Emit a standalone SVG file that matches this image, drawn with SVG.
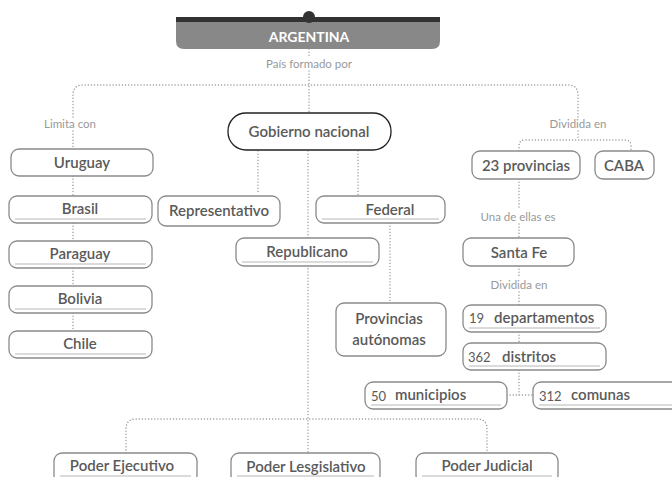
<svg xmlns="http://www.w3.org/2000/svg" width="672" height="477" viewBox="0 0 672 477">
<style>
.n{fill:#fff;stroke:#8a8a8a;stroke-width:1.3}
.u{stroke:#cfcfcf;stroke-width:1.5;fill:none}
.t{font-family:Lato,"Open Sans",sans-serif;font-size:15px;font-weight:600;fill:#5a5a5a;text-anchor:middle}
.s{font-family:Lato,"Open Sans",sans-serif;font-size:13px;font-weight:400;fill:#5a5a5a}
.w{font-family:Lato,"Open Sans",sans-serif;font-size:15px;font-weight:600;fill:#5a5a5a}
.l{font-family:Lato,"Open Sans",sans-serif;font-size:11.5px;fill:#999;text-anchor:middle}
.c{fill:none;stroke:#9a9a9a;stroke-width:1.4;stroke-dasharray:0.1 3;stroke-linecap:round}
</style>
<g id="connectors">
<path class="c" d="M309,49 V57 M309,71 V113"/>
<path class="c" d="M73,117 V95 Q73,85 83,85 H568 Q578,85 578,95 V117"/>
<path class="c" d="M73,131 V149"/>
<path class="c" d="M578,131 V140 M519,151 V146 Q519,140 525,140 H625 Q631,140 631,146 V151"/>
<path class="c" d="M73,176 V196 M73,223 V241 M73,268 V286 M73,313 V331"/>
<path class="c" d="M258,151 V194 M358,151 V196 M308,151 V453"/>
<path class="c" d="M126,453 V429 Q126,419 136,419 H477 Q487,419 487,429 V453"/>
<path class="c" d="M390,223 V303"/>
<path class="c" d="M519,179 V208 M519,224 V238 M519,266 V277 M519,292 V305 M519,332 V343 M519,370 V395 M507,395 H533"/>
</g>
<g id="title">
<path d="M176,22 H440 V41 Q440,49 432,49 H184 Q176,49 176,41 Z" fill="#888"/>
<rect x="176" y="17" width="264" height="5" fill="#333"/>
<circle cx="309" cy="17" r="6" fill="#333"/>
<text x="309" y="42" font-family="Lato,'Open Sans',sans-serif" font-size="14" font-weight="700" fill="#fff" text-anchor="middle">ARGENTINA</text>
</g>
<g id="labels">
<text class="l" x="309" y="68">País formado por</text>
<text class="l" x="70" y="128">Limita con</text>
<text class="l" x="578" y="128">Dividida en</text>
<text class="l" x="518" y="221">Una de ellas es</text>
<text class="l" x="519" y="289">Dividida en</text>
</g>
<g id="gobierno"><rect x="228" y="113" width="163" height="37" rx="18" fill="#fff" stroke="#222" stroke-width="1.3"/><text class="t" x="309" y="137">Gobierno nacional</text></g>
<g id="uruguay"><rect class="n" x="11" y="149" width="142" height="27" rx="8"/><text class="t" x="82" y="168">Uruguay</text></g>
<g id="brasil"><rect class="n" x="9" y="196" width="143" height="27" rx="8"/><path class="u" d="M15,219 H146"/><text class="t" x="80" y="214">Brasil</text></g>
<g id="paraguay"><rect class="n" x="9" y="241" width="143" height="27" rx="8"/><path class="u" d="M15,264 H146"/><text class="t" x="80" y="259">Paraguay</text></g>
<g id="bolivia"><rect class="n" x="9" y="286" width="143" height="27" rx="8"/><path class="u" d="M15,309 H146"/><text class="t" x="80" y="304">Bolivia</text></g>
<g id="chile"><rect class="n" x="9" y="331" width="143" height="27" rx="8"/><path class="u" d="M15,354 H146"/><text class="t" x="80" y="349">Chile</text></g>
<g id="representativo"><rect class="n" x="158" y="196" width="122" height="30" rx="8"/><text class="t" x="219" y="216">Representativo</text></g>
<g id="federal"><rect class="n" x="316" y="196" width="129" height="27" rx="8"/><path class="u" d="M322,219 H439"/><text class="t" x="390" y="215">Federal</text></g>
<g id="republicano"><rect class="n" x="236" y="238" width="143" height="28" rx="8"/><path class="u" d="M242,262 H373"/><text class="t" x="307" y="257">Republicano</text></g>
<g id="provincias-autonomas"><rect class="n" x="336" y="303" width="110" height="53" rx="8"/><text class="t" x="389" y="324">Provincias</text><text class="t" x="389" y="345">autónomas</text></g>
<g id="provincias23"><rect class="n" x="472" y="151" width="108" height="28" rx="8"/><text class="t" x="526" y="171">23 provincias</text></g>
<g id="caba"><rect class="n" x="595" y="151" width="59" height="28" rx="8"/><text class="t" x="624" y="171">CABA</text></g>
<g id="santafe"><rect class="n" x="463" y="238" width="111" height="28" rx="8"/><text class="t" x="519" y="258">Santa Fe</text></g>
<g id="departamentos"><rect class="n" x="463" y="305" width="143" height="27" rx="8"/><path class="u" d="M469,328 H600"/><text class="s" x="469" y="323">19</text><text class="w" x="494" y="323">departamentos</text></g>
<g id="distritos"><rect class="n" x="463" y="343" width="143" height="27" rx="8"/><path class="u" d="M469,366 H600"/><text class="s" x="468" y="362">362</text><text class="w" x="502" y="362">distritos</text></g>
<g id="municipios"><rect class="n" x="365" y="382" width="142" height="27" rx="8"/><path class="u" d="M371,405 H501"/><text class="s" x="371" y="401">50</text><text class="w" x="395" y="400">municipios</text></g>
<g id="comunas"><rect class="n" x="533" y="382" width="150" height="27" rx="8"/><path class="u" d="M539,405 H672"/><text class="s" x="539" y="401">312</text><text class="w" x="571" y="400">comunas</text></g>
<g id="ejecutivo"><rect class="n" x="54" y="453" width="143" height="30" rx="8"/><path class="u" d="M60,476 H191"/><text class="t" x="122" y="471">Poder Ejecutivo</text></g>
<g id="legislativo"><rect class="n" x="231" y="453" width="149" height="30" rx="8"/><path class="u" d="M237,476 H374"/><text class="t" x="306" y="472">Poder Lesgislativo</text></g>
<g id="judicial"><rect class="n" x="416" y="453" width="142" height="30" rx="8"/><path class="u" d="M422,476 H552"/><text class="t" x="487" y="471">Poder Judicial</text></g>
</svg>
